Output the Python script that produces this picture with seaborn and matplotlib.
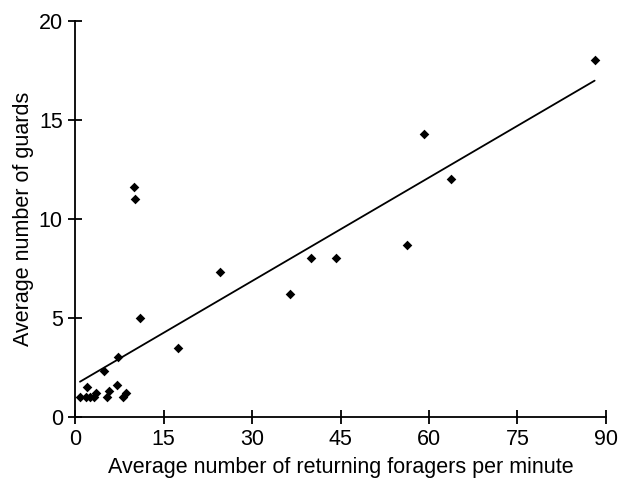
import numpy as np
import pandas as pd
import seaborn as sns
import matplotlib.pyplot as plt

foragers = [0.8, 1.8, 2.0, 2.5, 3.2, 3.5, 4.8, 5.3, 5.8, 7.0, 7.3, 8.1, 8.6,
            10.0, 10.2, 11.0, 17.4, 24.5, 36.4, 40.0, 44.3, 56.2, 59.1, 63.8, 88.1]
guards = [1.0, 1.0, 1.5, 1.0, 1.0, 1.2, 2.3, 1.0, 1.3, 1.6, 3.0, 1.0, 1.2,
          11.6, 11.0, 5.0, 3.5, 7.3, 6.2, 8.0, 8.0, 8.7, 14.3, 12.0, 18.0]
x_ticks = [0, 15, 30, 45, 60, 75, 90]
y_ticks = [0, 5, 10, 15, 20]

df = pd.DataFrame({'foragers': foragers, 'guards': guards})

sns.set_style("ticks")
plt.rcParams['font.family'] = ['Liberation Sans', 'DejaVu Sans']
plt.rcParams['text.color'] = 'black'
plt.rcParams['axes.labelcolor'] = 'black'
plt.rcParams['xtick.color'] = 'black'
plt.rcParams['ytick.color'] = 'black'

fig = plt.figure(figsize=(6.22, 4.83), dpi=100)
ax = fig.add_axes([0.121, 0.137, 0.853, 0.82])

sns.regplot(data=df, x='foragers', y='guards', ax=ax, ci=None, truncate=True,
            marker='D', color='black',
            scatter_kws={'s': 24, 'linewidths': 0, 'alpha': 1},
            line_kws={'linewidth': 1.3})

ax.set_xlim(0, 90)
ax.set_ylim(0, 20)
ax.set_xticks(x_ticks)
ax.set_yticks(y_ticks)
ax.tick_params(direction='inout', length=10, width=1.3, labelsize=15.5, pad=4)
for s in ['left', 'bottom']:
    ax.spines[s].set_linewidth(1.3)
    ax.spines[s].set_color('black')
sns.despine(ax=ax)
ax.set_xlabel('Average number of returning foragers per minute', fontsize=15.5, labelpad=5)
ax.set_ylabel('Average number of guards', fontsize=15.5, labelpad=3)

fig.savefig('out.png', dpi=100)
